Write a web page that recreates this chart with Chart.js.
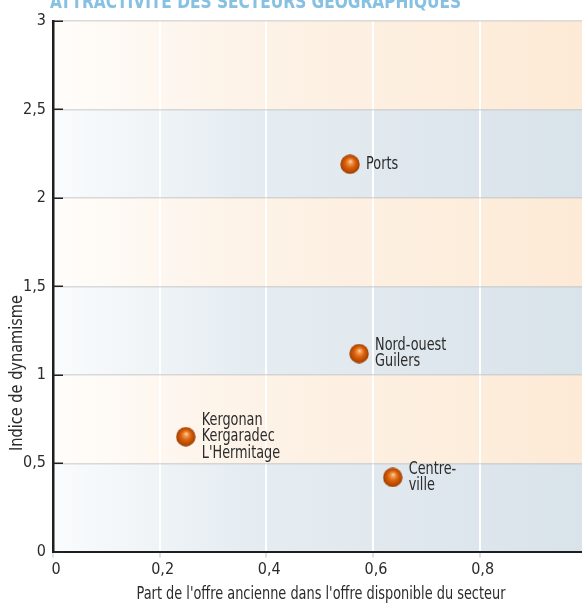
<!DOCTYPE html>
<html lang="fr">
<head>
<meta charset="utf-8">
<script src="https://cdn.jsdelivr.net/npm/chart.js@4.4.1/dist/chart.umd.min.js"></script>
<style>
  html, body { margin: 0; padding: 0; background: #ffffff; }
  #wrap { width: 582px; height: 604px; position: relative; }
</style>
</head>
<body>
<div id="wrap"><canvas id="chart" width="582" height="604"></canvas></div>
<script>
const FONT = '"DejaVu Sans Condensed", "Liberation Sans", sans-serif';
const TEXT = '#2b2b2b';

// Secteurs géographiques (libellés sur plusieurs lignes)
const secteurs = [
  ["Ports"],
  ["Nord-ouest", "Guilers"],
  ["Kergonan", "Kergaradec", "L'Hermitage"],
  ["Centre-", "ville"]
];
// Part de l'offre ancienne dans l'offre disponible du secteur
const partOffreAncienne = [0.557, 0.574, 0.249, 0.637];
// Indice de dynamisme
const indiceDynamisme = [2.19, 1.12, 0.65, 0.42];

const titre = "ATTRACTIVITÉ DES SECTEURS GÉOGRAPHIQUES";
const titreX = "Part de l'offre ancienne dans l'offre disponible du secteur";
const titreY = "Indice de dynamisme";

const fmt = v => String(Math.round(v * 10) / 10).replace('.', ',');

// Texte resserré horizontalement (police étroite)
function narrowText(ctx, text, x, y, sx) {
  ctx.save();
  ctx.translate(x, y);
  ctx.scale(sx, 1);
  ctx.fillText(text, 0, 0);
  ctx.restore();
}

// Bille orange utilisée comme marqueur
function makeSphere(r) {
  const c = document.createElement('canvas');
  c.width = c.height = r * 2;
  const g = c.getContext('2d');
  const grad = g.createRadialGradient(r + 0.5, r - 3, 0, r, r, r);
  grad.addColorStop(0, '#ffdcb8');
  grad.addColorStop(0.2, '#f49a50');
  grad.addColorStop(0.5, '#d9620c');
  grad.addColorStop(0.85, '#b44600');
  grad.addColorStop(1, '#883400');
  g.fillStyle = grad;
  g.beginPath();
  g.arc(r, r, r - 0.3, 0, Math.PI * 2);
  g.fill();
  return c;
}
const sphere = makeSphere(10);

// Bandes horizontales en dégradé derrière la zone de tracé
const bandes = {
  id: 'bandes',
  beforeDraw(chart) {
    const { ctx, chartArea: a, scales: { y } } = chart;
    const vals = y.ticks.map(t => t.value).sort((p, q) => p - q);
    ctx.save();
    for (let i = 0; i < vals.length - 1; i++) {
      const top = y.getPixelForValue(vals[i + 1]);
      const bot = y.getPixelForValue(vals[i]);
      const g = ctx.createLinearGradient(a.left, 0, a.right, 0);
      if (i % 2 === 0) {
        g.addColorStop(0, '#fafcfd');
        g.addColorStop(0.35, '#e6edf2');
        g.addColorStop(1, '#d9e3ea');
      } else {
        g.addColorStop(0, '#fffdfb');
        g.addColorStop(0.35, '#fdf3e8');
        g.addColorStop(1, '#fdead6');
      }
      ctx.fillStyle = g;
      ctx.fillRect(a.left, top, a.width, bot - top);
    }
    ctx.restore();
  }
};

// Graduations courtes vers l'intérieur sur l'axe vertical
const graduations = {
  id: 'graduations',
  afterDraw(chart) {
    const { ctx, chartArea: a, scales: { y } } = chart;
    ctx.save();
    ctx.strokeStyle = '#222';
    ctx.lineWidth = 1.5;
    y.ticks.forEach(t => {
      const py = Math.round(y.getPixelForValue(t.value)) + 0.25;
      ctx.beginPath();
      ctx.moveTo(a.left, py);
      ctx.lineTo(a.left + 10, py);
      ctx.stroke();
    });
    ctx.restore();
  }
};

// Étiquettes des secteurs à droite des billes
const etiquettes = {
  id: 'etiquettes',
  afterDatasetsDraw(chart) {
    const { ctx } = chart;
    const meta = chart.getDatasetMeta(0);
    const lh = 16.5;
    ctx.save();
    ctx.font = '17px ' + FONT;
    ctx.fillStyle = TEXT;
    ctx.textAlign = 'left';
    ctx.textBaseline = 'middle';
    meta.data.forEach((pt, i) => {
      const lignes = secteurs[i];
      const y0 = pt.y - (lignes.length - 1) * lh / 2;
      lignes.forEach((l, k) => narrowText(ctx, l, pt.x + 16, y0 + k * lh, 0.84));
    });
    ctx.restore();
  }
};

// Titre du graphique et titres des axes
const textes = {
  id: 'textes',
  afterDraw(chart) {
    const { ctx } = chart;
    ctx.save();
    ctx.font = 'bold 19px ' + FONT;
    ctx.fillStyle = '#86c0e2';
    ctx.textBaseline = 'alphabetic';
    ctx.textAlign = 'left';
    narrowText(ctx, titre, 50, 8, 0.9);

    ctx.font = '17.5px ' + FONT;
    ctx.fillStyle = TEXT;
    ctx.textAlign = 'center';
    ctx.textBaseline = 'middle';
    narrowText(ctx, titreX, 321, 594, 0.82);

    ctx.font = '17px ' + FONT;
    ctx.translate(18, 373);
    ctx.rotate(-Math.PI / 2);
    narrowText(ctx, titreY, 0, 0, 0.95);
    ctx.restore();
  }
};

new Chart(document.getElementById('chart'), {
  type: 'scatter',
  data: {
    datasets: [{
      data: partOffreAncienne.map((x, i) => ({ x, y: indiceDynamisme[i] })),
      pointStyle: sphere,
      pointRadius: 10,
      pointHoverRadius: 10
    }]
  },
  options: {
    responsive: false,
    animation: false,
    devicePixelRatio: 1,
    layout: { autoPadding: false, padding: { top: 21, left: 0, right: 0, bottom: 0 } },
    plugins: { legend: { display: false }, tooltip: { enabled: false } },
    scales: {
      x: {
        type: 'linear',
        min: 0,
        max: 0.992,
        afterFit(s) { s.height = 52.3; },
        border: { color: '#1e1e1e', width: 2 },
        grid: {
          color: '#ffffff',
          lineWidth: 2,
          drawTicks: true,
          tickLength: 6,
          tickColor: '#a8c7dc',
          tickWidth: 1
        },
        ticks: {
          stepSize: 0.2,
          includeBounds: false,
          padding: 3,
          labelOffset: 3,
          color: TEXT,
          font: { family: FONT, size: 16 },
          callback: v => fmt(v)
        }
      },
      y: {
        min: 0,
        max: 3,
        afterFit(s) { s.width = 53; },
        border: { color: '#1e1e1e', width: 2.5 },
        grid: {
          color: 'rgba(190,190,190,0.55)',
          lineWidth: 1.5,
          drawTicks: false
        },
        ticks: {
          stepSize: 0.5,
          padding: 7,
          color: TEXT,
          font: { family: FONT, size: 16 },
          callback: v => fmt(v)
        }
      }
    }
  },
  plugins: [bandes, graduations, etiquettes, textes]
});
</script>
</body>
</html>
